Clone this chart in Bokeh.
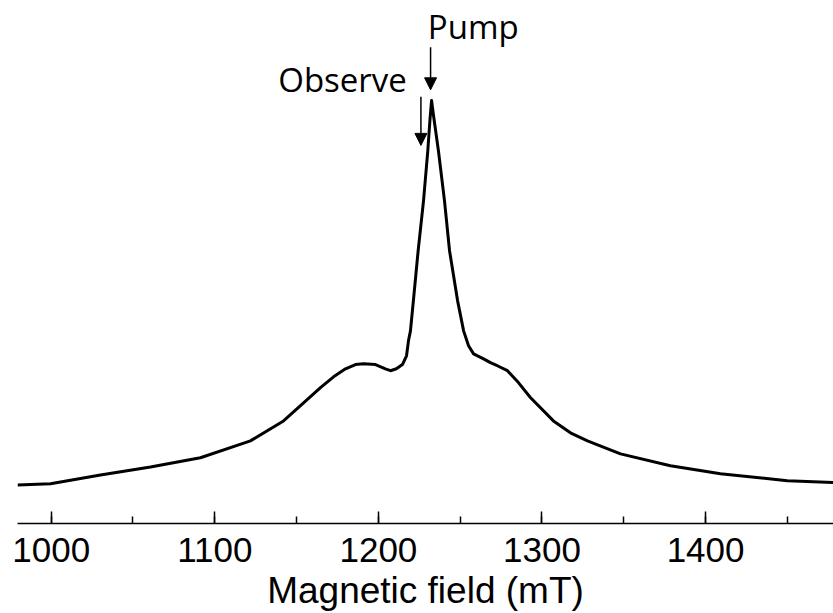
from bokeh.plotting import figure
from bokeh.models import Range1d, SingleIntervalTicker, Arrow, NormalHead, Label
from bokeh.embed import file_html
from bokeh.resources import INLINE

# Spectrum (field in mT, echo intensity in arbitrary units)
field_mT = [979.4, 999.6, 1030.1, 1060.7, 1091.2, 1121.8, 1142.0, 1152.4, 1164.6,
            1172.6, 1179.9, 1186.0, 1190.9, 1198.2, 1204.3, 1207.4, 1211.0, 1214.7,
            1217.2, 1218.4, 1219.6, 1221.4, 1224.3, 1227.6, 1230.2, 1231.5, 1232.5,
            1233.7, 1236.7, 1240.4, 1243.5, 1248.4, 1252.1, 1255.1, 1258.2, 1264.3,
            1268.5, 1272.7, 1278.9, 1285.6, 1292.9, 1307.0, 1317.4, 1327.8, 1348.0,
            1378.5, 1409.1, 1450.0, 1478.2]
intensity = [-0.003, 0.000, 0.023, 0.044, 0.068, 0.112, 0.164, 0.204, 0.251,
             0.279, 0.300, 0.311, 0.313, 0.311, 0.300, 0.295, 0.300, 0.311,
             0.334, 0.373, 0.399, 0.478, 0.608, 0.739, 0.869, 0.948, 1.000,
             0.961, 0.869, 0.739, 0.608, 0.478, 0.399, 0.360, 0.339, 0.326,
             0.316, 0.308, 0.295, 0.264, 0.225, 0.164, 0.133, 0.112, 0.078,
             0.047, 0.026, 0.008, 0.003]

x_label = "Magnetic field (mT)"
annot_text = ["Observe", "Pump"]
observe_field = 1226.0
pump_field = 1231.9

p = figure(width=833, height=613, output_backend="svg", toolbar_location=None,
           x_range=Range1d(979.4, 1478.2), y_range=Range1d(-0.1037, 1.2611),
           min_border_left=17, min_border_right=0, min_border_top=0, min_border_bottom=90)
p.outline_line_color = None
p.xgrid.visible = False
p.ygrid.visible = False
p.yaxis.visible = False
p.background_fill_color = "white"
p.border_fill_color = "white"

p.line(field_mT, intensity, line_color="black", line_width=3, line_join="round")

ax = p.xaxis[0]
ax.ticker = SingleIntervalTicker(interval=100, num_minor_ticks=2)
ax.axis_label = x_label
ax.axis_line_width = 1.5
ax.axis_line_color = "black"
ax.major_tick_line_width = 1.5
ax.minor_tick_line_width = 1.5
ax.major_tick_line_color = "black"
ax.minor_tick_line_color = "black"
ax.major_tick_in = 12
ax.major_tick_out = 0
ax.minor_tick_in = 7
ax.minor_tick_out = 0
ax.major_label_standoff = 14
ax.axis_label_standoff = 5
ax.major_label_text_font = "Liberation Sans"
ax.major_label_text_font_size = "35px"
ax.major_label_text_color = "black"
ax.axis_label_text_font = "Liberation Sans"
ax.axis_label_text_font_size = "37px"
ax.axis_label_text_font_style = "normal"
ax.axis_label_text_color = "black"

# Arrows
p.add_layout(Arrow(x_start=pump_field, y_start=1.139, x_end=pump_field, y_end=1.028,
                   line_color="black", line_width=1.5,
                   end=NormalHead(size=12, fill_color="black", line_color="black")))
p.add_layout(Arrow(x_start=observe_field, y_start=1.010, x_end=observe_field, y_end=0.883,
                   line_color="black", line_width=1.5,
                   end=NormalHead(size=12, fill_color="black", line_color="black")))

p.add_layout(Label(x=1217.4, y=1.056, text=annot_text[0], text_align="right",
                   text_baseline="alphabetic", text_font="Open Sans",
                   text_font_size="33px", text_color="black"))
p.add_layout(Label(x=1230.2, y=1.193, text=annot_text[1], text_align="left",
                   text_baseline="alphabetic", text_font="Open Sans",
                   text_font_size="33px", text_color="black"))

open("out.html", "w").write(file_html(p, INLINE))
